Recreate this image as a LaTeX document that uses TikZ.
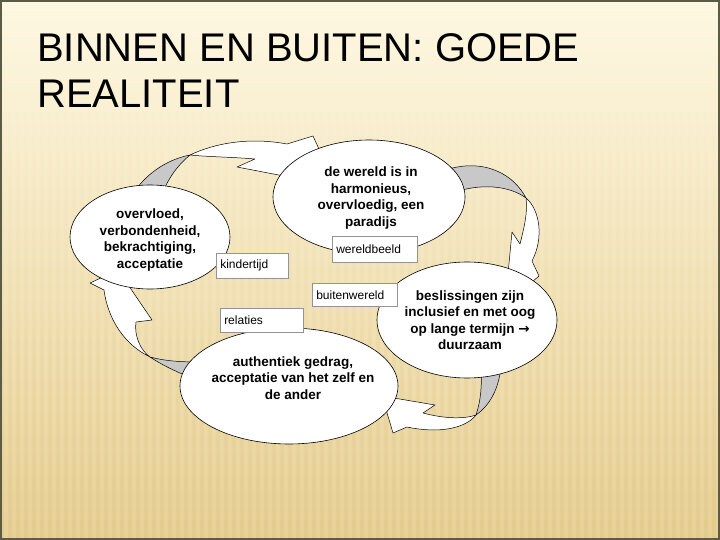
\documentclass[tikz,border=0pt]{standalone}
\usepackage{fontspec}
\setmainfont{Liberation Sans}
\newfontfamily\djv{DejaVu Sans}
\usetikzlibrary{shapes.geometric,shadows,fadings}
\definecolor{bgtop}{HTML}{FEF8E2}
\definecolor{bgmid}{HTML}{F8E8BA}
\definecolor{bgbot}{HTML}{E8D196}
\definecolor{framecol}{HTML}{5E5B44}
\definecolor{backface}{HTML}{C8C8C8}
\definecolor{stripecol}{HTML}{C9A85E}
\begin{document}
\begin{tikzpicture}[x=1pt,y=-1pt,
  ell/.style={ellipse, draw=black, line width=0.6pt, fill=white, inner sep=0pt},
  band/.style={draw=black, line width=0.5pt, fill=white, line join=round},
  back/.style={draw=black, line width=0.5pt, fill=backface, line join=round},
  etext/.style={font=\fontsize{13.5}{16.5}\selectfont\bfseries, align=center, inner sep=0pt},
  lab/.style={draw=gray!85, fill=white, line width=0.5pt, anchor=north west,
    font=\fontsize{12}{14}\selectfont, inner xsep=4pt, inner ysep=0pt, align=left,
    general shadow={shadow xshift=1pt, shadow yshift=-1pt, fill=black!55}},
  titletext/.style={anchor=base west, font=\fontsize{40}{46}\selectfont, inner sep=0pt}
]
\useasboundingbox (0,0) rectangle (720,540);
% background
\shade[top color=bgtop, middle color=bgmid, bottom color=bgbot] (0,0) rectangle (720,540);
\fill[stripecol, opacity=0.14, path fading=north]
  \foreach \i in {0,...,89} { (\i*8,110) rectangle ++(4,430) };
% title
\node[titletext] (t1) at (37,62) {BINNEN EN BUITEN: GOEDE};
\node[titletext] (t2) at (37,108) {REALITEIT};

% arrow 1 (left -> top)
\path[back] (132,195) .. controls (145,175) and (165,160) .. (190,155)
  .. controls (178,165) and (168,178) .. (162,195) -- cycle;
\path[band] (190,155) .. controls (215,143) and (250,137) .. (287,144) -- (313,136) -- (336,186)
  -- (237,167) -- (255,159) .. controls (232,157) and (210,157) .. (190,155) -- cycle;
% arrow 2 (top -> right)
\path[back] (440,172) .. controls (475,158) and (510,168) .. (526,198)
  .. controls (510,186) and (480,182) .. (450,194) -- cycle;
\path[band] (526,198) .. controls (540,210) and (544,238) .. (532,261) -- (539,276) -- (505,305)
  -- (512,232) -- (520,244) .. controls (524,228) and (528,212) .. (526,198) -- cycle;
% arrow 3 (right -> bottom)
\path[back] (501,368) .. controls (498,390) and (490,405) .. (476,415)
  .. controls (481,400) and (482,385) .. (481,368) -- cycle;
\path[band] (476,415) .. controls (466,428) and (440,434) .. (407,427) -- (393,433) -- (382,396)
  -- (435,405) -- (423,413) .. controls (445,419) and (465,419) .. (476,415) -- cycle;
% arrow 4 (bottom -> left)
\path[back] (150,357) .. controls (165,367) and (180,373) .. (196,380) -- (200,362)
  .. controls (180,362) and (165,361) .. (150,357) -- cycle;
\path[band] (150,357) .. controls (125,345) and (108,320) .. (104,290) -- (90,283) -- (118,270)
  -- (152,320) -- (136,322) .. controls (134,335) and (140,350) .. (150,357) -- cycle;

% ellipses
\node[ell, minimum width=160pt, minimum height=104pt] (L) at (150,237) {};
\node[ell, minimum width=192pt, minimum height=114pt] (T) at (369,197) {};
\node[ell, minimum width=180pt, minimum height=116pt] (R) at (467,320) {};
\node[ell, minimum width=218pt, minimum height=116pt] (B) at (289,386) {};

\node[etext] (Ltxt) at (150,240) {overvloed,\\verbondenheid,\\bekrachtiging,\\acceptatie};
\node[etext] (Ttxt) at (371,198) {de wereld is in\\harmonieus,\\overvloedig, een\\paradijs};
\node[etext] (Rtxt) at (470,320) {beslissingen zijn\\inclusief en met oog\\op lange termijn {\djv\bfseries →}\\duurzaam};
\node[etext] (Btxt) at (293,378) {authentiek gedrag,\\acceptatie van het zelf en\\de ander};

% labels
\node[lab, text width=64pt, minimum height=25pt] (kt) at (216,253) {kindertijd};
\node[lab, text width=77pt, minimum height=26pt] (wb) at (332,236) {wereldbeeld};
\node[lab, text width=77pt, minimum height=23pt] (bw) at (312,283) {buitenwereld};
\node[lab, text width=75pt, minimum height=24pt] (rel) at (220,308) {relaties};

% frame
\draw[framecol, line width=2pt] (1,1) rectangle (719,539);
\end{tikzpicture}
\end{document}
